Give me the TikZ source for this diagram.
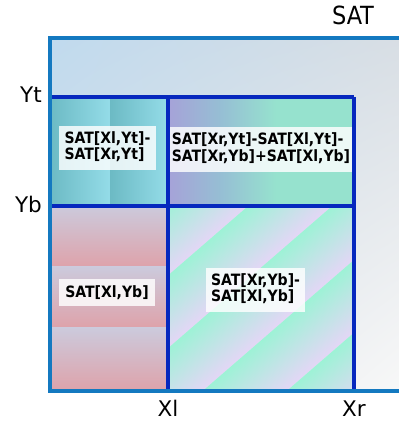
\documentclass[tikz,border=0pt]{standalone}
\usepackage{fontspec}
\setmainfont{DejaVu Sans}
\newfontfamily\condfont{DejaVu Sans Condensed}
\usetikzlibrary{shadings}
\definecolor{outUL}{HTML}{C0DAEE}
\definecolor{outUR}{HTML}{D8DEE4}
\definecolor{outLL}{HTML}{DCE2E8}
\definecolor{outLR}{HTML}{F8F8F8}
\definecolor{outline}{HTML}{1479C0}
\definecolor{innerline}{HTML}{0628BE}
\definecolor{tlA}{HTML}{6CBAC4}
\definecolor{tlB}{HTML}{94DCE8}
\definecolor{trA}{HTML}{A6A2D8}
\definecolor{trB}{HTML}{96BED4}
\definecolor{trC}{HTML}{96E2CE}
\definecolor{blA}{HTML}{CCCADC}
\definecolor{blB}{HTML}{DEA2AA}
\definecolor{brA}{HTML}{9EF2D6}
\definecolor{brB}{HTML}{E4D6F6}
\pgfdeclarehorizontalshading{trgrad}{100bp}{color(0bp)=(trA); color(25bp)=(trA); color(39bp)=(trB); color(54bp)=(trC); color(75bp)=(trC); color(100bp)=(trC)}
\tikzset{
  innerstroke/.style={draw=innerline, line width=3.5pt},
  outerstroke/.style={draw=outline, line width=3.5pt},
  lblbox/.style={fill=white, fill opacity=0.82, text opacity=1, inner sep=0pt, text=black,
    font=\condfont\bfseries\fontsize{15.6}{15}\selectfont},
  axlbl/.style={inner sep=0pt, text=black, font=\fontsize{21.5}{21.5}\selectfont},
  satlbl/.style={inner sep=0pt, text=black, font=\condfont\fontsize{25}{25}\selectfont}
}
\begin{document}
\begin{tikzpicture}[x=1pt,y=1pt]
\useasboundingbox (0,0) rectangle (399,421);
\clip (0,0) rectangle (399,421);
% outer SAT area
\shade[upper left=outUL, upper right=outUR, lower left=outLL, lower right=outLR] (50,30) rectangle (404,383);
% top-left region
\shade[left color=tlA, right color=tlB] (50,215) rectangle (110,324);
\shade[left color=tlA, right color=tlB] (110,215) rectangle (168,324);
% top-right region
\shade[shading=trgrad] (168,215) rectangle (354,324);
% bottom-left region
\foreach \a/\b in {215/154,154/93,93/30}
  \shade[top color=blA, bottom color=blB] (50,\b) rectangle (168,\a);
% bottom-right region (diagonal stripes)
\begin{scope}
  \clip (168,30) rectangle (354,215);
  \begin{scope}[transform canvas={rotate=-49.1}]
    \foreach \k in {-2,...,4}
      \shade[left color=brA, right color=brB] ({55*\k},100) rectangle ({55*\k+55},450);
  \end{scope}
\end{scope}
% inner grid lines
\draw[innerstroke] (50,324) -- (354,324);
\draw[innerstroke] (50,215) -- (354,215);
\draw[innerstroke] (168,324) -- (168,30);
\draw[innerstroke] (354,324) -- (354,30);
% outer border
\draw[outerstroke] (404,383) -- (50,383) -- (50,30) -- (404,30);
% labels in regions
\node[lblbox, minimum width=97pt, minimum height=44pt] (tl) at (107.5,273)
  {\begin{tabular}{@{}l@{}}SAT[Xl,Yt]-\\SAT[Xr,Yt]\end{tabular}};
\node[lblbox, minimum width=182pt, minimum height=45pt] (tr) at (261,271.5)
  {\begin{tabular}{@{}l@{}}SAT[Xr,Yt]-SAT[Xl,Yt]-\\SAT[Xr,Yb]+SAT[Xl,Yb]\end{tabular}};
\node[lblbox, minimum width=96pt, minimum height=27pt] (bl) at (107,128.5) {SAT[Xl,Yb]};
\node[lblbox, minimum width=99pt, minimum height=44pt] (br) at (255.5,131)
  {\begin{tabular}{@{}l@{}}SAT[Xr,Yb]-\\SAT[Xl,Yb]\end{tabular}};
% axis labels
\node[axlbl, anchor=base east] (yt) at (42,318) {Yt};
\node[axlbl, anchor=base east] (yb) at (42,208) {Yb};
\node[axlbl, anchor=base] (xl) at (168,5) {Xl};
\node[axlbl, anchor=base] (xr) at (354,5) {Xr};
\node[satlbl, anchor=base] (sat) at (353,396) {SAT};
\end{tikzpicture}
\end{document}
